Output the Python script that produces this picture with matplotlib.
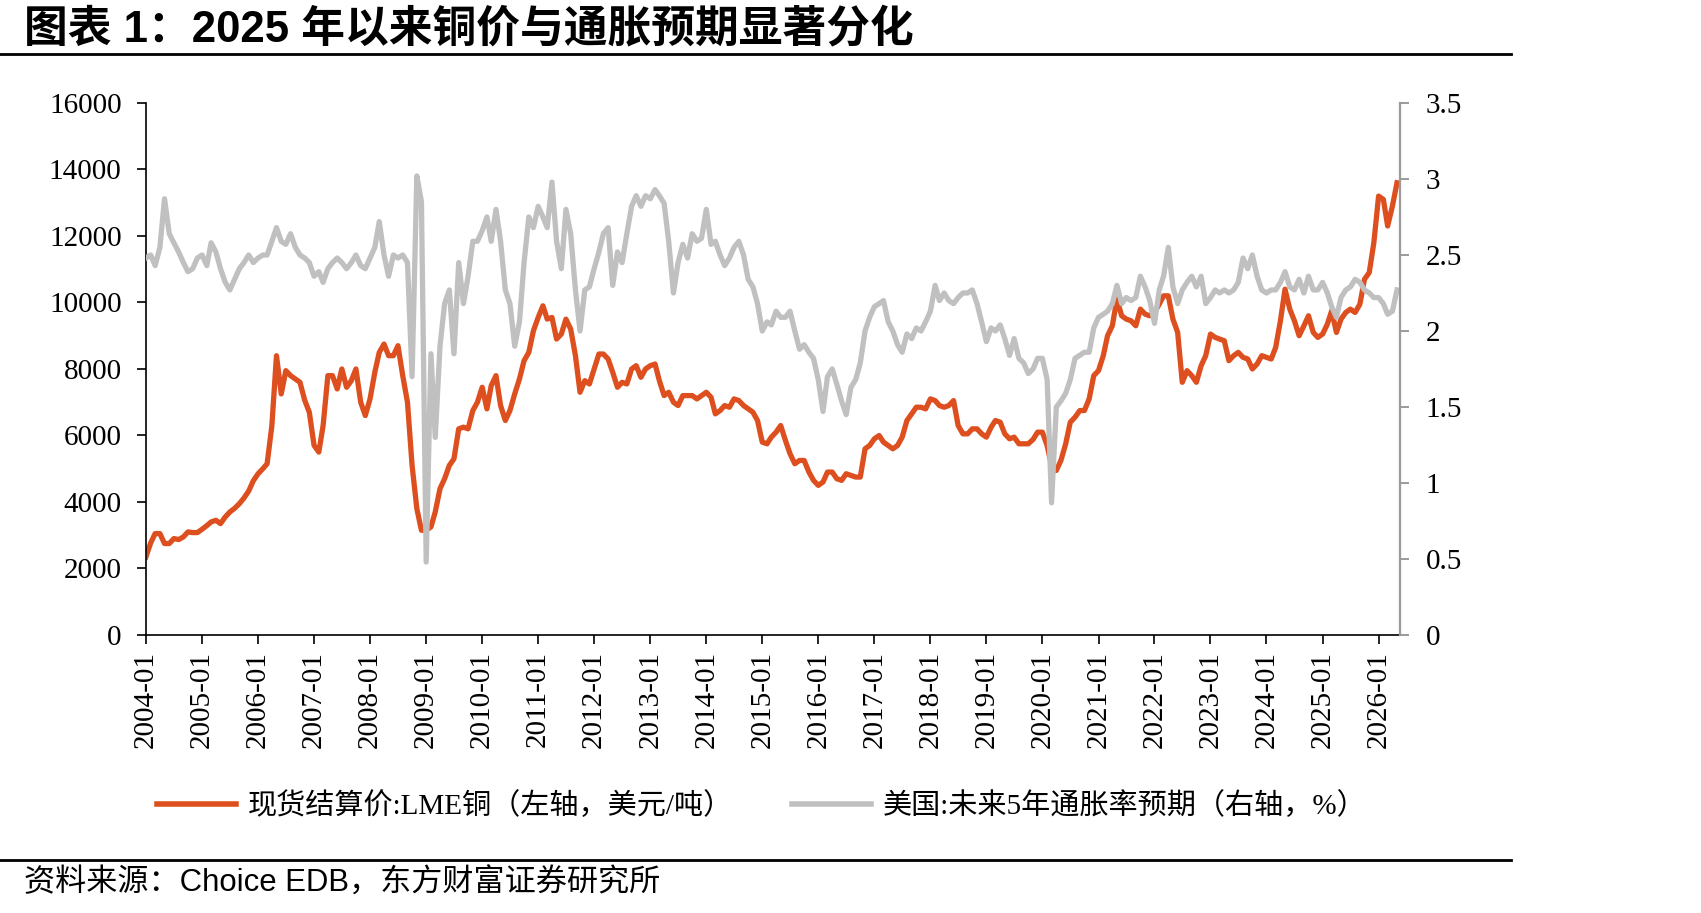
import numpy as np
import pandas as pd
import matplotlib
matplotlib.use("Agg")
import matplotlib.pyplot as plt
import matplotlib.dates as mdates
from matplotlib.ticker import FuncFormatter
from matplotlib.lines import Line2D

# monthly readings, 2004-01 .. 2026-05
months = pd.date_range("2004-01-01", periods=269, freq="MS")

# LME copper spot settlement, USD/t (left axis)
copper = [
    2350, 2770, 3050, 3050, 2750, 2750, 2900, 2870, 2950, 3100, 3080, 3080,
    3180, 3290, 3400, 3450, 3350, 3550, 3700, 3810, 3950, 4120, 4330, 4640,
    4850, 5000, 5150, 6300, 8400, 7250, 7950, 7800, 7700, 7600, 7060, 6700,
    5700, 5500, 6300, 7800, 7800, 7400, 8000, 7450, 7650, 8000, 7000, 6600,
    7100, 7900, 8500, 8750, 8400, 8400, 8700, 7800, 7000, 5100, 3800, 3150,
    3150, 3250, 3700, 4400, 4700, 5100, 5300, 6200, 6250, 6200, 6750, 7000,
    7450, 6800, 7500, 7800, 6900, 6450, 6750, 7250, 7700, 8250, 8500, 9150,
    9550, 9900, 9500, 9550, 8900, 9050, 9500, 9200, 8400, 7300, 7650, 7550,
    8000, 8450, 8450, 8300, 7900, 7450, 7600, 7550, 8000, 8100, 7750, 8000,
    8100, 8150, 7650, 7200, 7300, 7000, 6900, 7200, 7200, 7200, 7100, 7200,
    7300, 7150, 6650, 6750, 6900, 6850, 7100, 7050, 6900, 6800, 6700, 6450,
    5800, 5750, 5950, 6100, 6300, 5850, 5450, 5150, 5250, 5250, 4900, 4650,
    4500, 4600, 4900, 4900, 4700, 4650, 4850, 4800, 4750, 4750, 5600, 5700,
    5900, 6000, 5800, 5700, 5600, 5700, 5950, 6450, 6650, 6850, 6850, 6800,
    7100, 7050, 6900, 6850, 6900, 7050, 6300, 6050, 6050, 6200, 6200, 6050,
    5950, 6250, 6450, 6400, 6050, 5900, 5950, 5750, 5750, 5750, 5880, 6100,
    6100, 5700, 5100, 4950, 5250, 5750, 6400, 6550, 6750, 6750, 7100, 7800,
    7950, 8400, 9000, 9300, 10100, 9600, 9500, 9450, 9300, 9800, 9650, 9600,
    9700, 9950, 10200, 10200, 9500, 9100, 7600, 7950, 7800, 7600, 8100, 8400,
    9050, 8950, 8900, 8850, 8250, 8400, 8500, 8350, 8300, 8000, 8150, 8400,
    8350, 8300, 8650, 9450, 10400, 9800, 9450, 9000, 9300, 9600, 9100, 8950,
    9050, 9350, 9750, 9100, 9500, 9700, 9800, 9700, 9950, 10700, 10900, 11800,
    13200, 13100, 12300, 12900, 13600,
]

# US 5-year inflation expectation, % (right axis)
infl = [
    2.48, 2.50, 2.43, 2.55, 2.87, 2.64, 2.58, 2.52, 2.45, 2.39, 2.41, 2.48,
    2.50, 2.43, 2.58, 2.52, 2.41, 2.32, 2.27, 2.34, 2.41, 2.45, 2.50, 2.45,
    2.48, 2.50, 2.50, 2.59, 2.68, 2.59, 2.57, 2.64, 2.55, 2.50, 2.48, 2.45,
    2.36, 2.39, 2.32, 2.41, 2.45, 2.48, 2.45, 2.41, 2.45, 2.50, 2.43, 2.41,
    2.48, 2.55, 2.72, 2.50, 2.36, 2.50, 2.48, 2.50, 2.45, 1.70, 3.02, 2.85,
    0.48, 1.85, 1.30, 1.90, 2.18, 2.27, 1.85, 2.45, 2.18, 2.36, 2.59, 2.59,
    2.66, 2.75, 2.59, 2.80, 2.59, 2.27, 2.18, 1.90, 2.06, 2.45, 2.75, 2.68,
    2.82, 2.75, 2.68, 2.98, 2.59, 2.41, 2.80, 2.64, 2.27, 2.00, 2.27, 2.29,
    2.41, 2.52, 2.64, 2.68, 2.30, 2.52, 2.45, 2.64, 2.82, 2.89, 2.82, 2.89,
    2.87, 2.93, 2.89, 2.84, 2.59, 2.25, 2.45, 2.57, 2.48, 2.64, 2.59, 2.61,
    2.80, 2.57, 2.59, 2.50, 2.43, 2.48, 2.55, 2.59, 2.50, 2.34, 2.29, 2.18,
    2.00, 2.06, 2.04, 2.13, 2.09, 2.09, 2.13, 2.00, 1.88, 1.91, 1.86, 1.82,
    1.68, 1.47, 1.70, 1.75, 1.65, 1.54, 1.45, 1.63, 1.68, 1.79, 2.00, 2.09,
    2.16, 2.18, 2.20, 2.06, 2.00, 1.91, 1.86, 1.98, 1.95, 2.02, 2.00, 2.06,
    2.13, 2.30, 2.20, 2.25, 2.20, 2.18, 2.22, 2.25, 2.25, 2.27, 2.18, 2.06,
    1.93, 2.02, 2.00, 2.04, 1.95, 1.84, 1.95, 1.82, 1.79, 1.72, 1.75, 1.82,
    1.82, 1.68, 0.87, 1.50, 1.54, 1.59, 1.68, 1.82, 1.84, 1.86, 1.86, 2.02,
    2.09, 2.11, 2.13, 2.18, 2.30, 2.18, 2.22, 2.20, 2.22, 2.36, 2.29, 2.20,
    2.05, 2.27, 2.36, 2.55, 2.29, 2.18, 2.27, 2.32, 2.36, 2.29, 2.36, 2.18,
    2.22, 2.27, 2.25, 2.27, 2.25, 2.27, 2.32, 2.48, 2.41, 2.50, 2.36, 2.27,
    2.25, 2.27, 2.27, 2.32, 2.39, 2.29, 2.27, 2.34, 2.25, 2.36, 2.27, 2.27,
    2.32, 2.25, 2.16, 2.09, 2.22, 2.27, 2.29, 2.34, 2.32, 2.27, 2.25, 2.22,
    2.22, 2.18, 2.11, 2.13, 2.27,
]

title = "图表 1：2025 年以来铜价与通胀预期显著分化"
label_cu = "现货结算价:LME铜（左轴，美元/吨）"
label_inf = "美国:未来5年通胀率预期（右轴，%）"
source = "资料来源：Choice EDB，东方财富证券研究所"

RED = "#DD4F1F"
GREY = "#C0C0C0"
serif_cjk = ["Liberation Serif", "Noto Sans CJK SC"]

fig = plt.figure(figsize=(17.01, 9.13), dpi=100)
ax = fig.add_axes([0.0858, 0.3045, 0.7372, 0.5827])
ax2 = ax.twinx()

ax.plot(months, copper, color=RED, lw=3.8, solid_joinstyle="round")
ax2.plot(months, infl, color=GREY, lw=3.8, solid_joinstyle="round")

ax.set_ylim(0, 16000)
ax.set_yticks(np.arange(0, 16001, 2000))
ax2.set_ylim(0, 3.5)
ax2.set_yticks(np.arange(0, 3.51, 0.5))
ax2.yaxis.set_major_formatter(FuncFormatter(lambda v, p: "%g" % v))

ax.set_xlim(pd.Timestamp("2004-01-01"), pd.Timestamp("2026-05-20"))
ax.xaxis.set_major_locator(mdates.YearLocator())
ax.xaxis.set_major_formatter(mdates.DateFormatter("%Y-%m"))

for a in (ax, ax2):
    a.spines["top"].set_visible(False)
ax.spines["right"].set_visible(False)
ax2.spines["left"].set_visible(False)
ax2.spines["bottom"].set_visible(False)
ax.spines["left"].set_linewidth(1.2)
ax.spines["bottom"].set_linewidth(1.2)
ax2.spines["right"].set_color("#9A9A9A")
ax2.spines["right"].set_linewidth(1.6)

ax.tick_params(axis="y", direction="out", length=6.5, width=1.2, pad=11,
               labelsize=21)
ax.tick_params(axis="x", direction="out", length=6.5, width=1.2, pad=5,
               labelsize=21, labelrotation=90)
ax2.tick_params(axis="y", direction="out", length=6.5, width=1.4, pad=12,
                labelsize=21, color="#9A9A9A")
for lab in ax.get_xticklabels() + ax.get_yticklabels() + ax2.get_yticklabels():
    lab.set_fontfamily("Liberation Serif")

# title and rules
fig.text(0.014, 1 - 29 / 913, title, fontsize=31.5, fontweight="bold",
         family=["Liberation Sans", "Noto Sans CJK SC"], va="center", ha="left")
fig.add_artist(Line2D([0, 1511 / 1701], [1 - 54 / 913] * 2, color="black", lw=2))
fig.add_artist(Line2D([0, 1511 / 1701], [1 - 860 / 913] * 2, color="black", lw=2))
fig.text(0.014, 1 - 884 / 913, source, fontsize=22.4,
         family=["Liberation Sans", "Noto Sans CJK SC"], va="center", ha="left")

# legend
handles = [Line2D([], [], color=RED, lw=4), Line2D([], [], color=GREY, lw=4)]
fig.legend(handles, [label_cu, label_inf], loc="center left",
           bbox_to_anchor=(157 / 1701, 1 - 806 / 913), ncol=2, frameon=False,
           prop={"family": serif_cjk, "size": 21}, handlelength=2.7,
           handletextpad=0.4, columnspacing=2.05, borderpad=0, borderaxespad=0)

fig.savefig("out.png", dpi=100)
